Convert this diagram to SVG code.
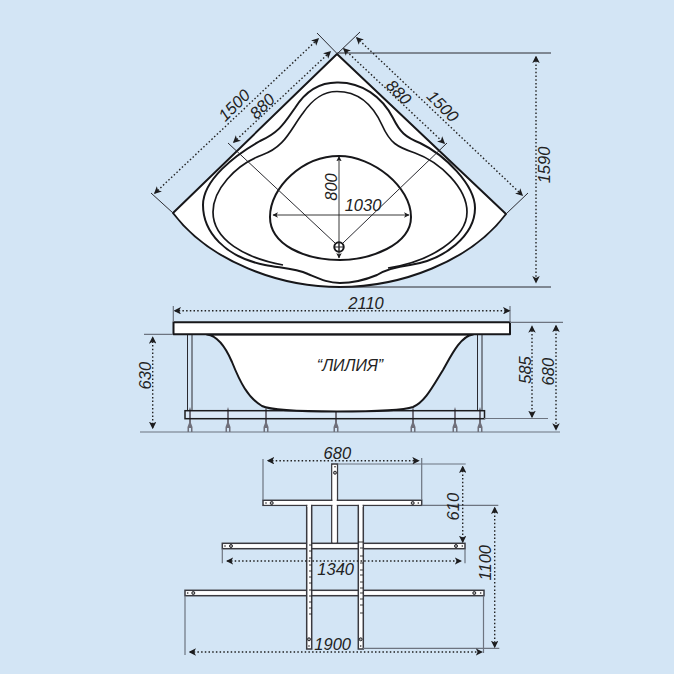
<svg xmlns="http://www.w3.org/2000/svg" width="674" height="674" viewBox="0 0 674 674">
<style>
.o{fill:none;stroke:#17171a;stroke-width:2;stroke-linejoin:round}
.w{fill:#fff;stroke:#17171a;stroke-width:2;stroke-linejoin:round}
.b{fill:#fff;stroke:#3a3a40;stroke-width:1.5}
.i{fill:#fff;stroke:none}
.t{fill:none;stroke:#2a2a30;stroke-width:1}
.g{fill:none;stroke:#6d7480;stroke-width:1.2}
.d{fill:none;stroke:#222;stroke-width:1.4;stroke-dasharray:1.5 2.2;marker-start:url(#a);marker-end:url(#a)}
.s{fill:none;stroke:#222;stroke-width:.9;marker-start:url(#a2);marker-end:url(#a2)}
.n{fill:#1c1c1e;stroke:none}
.c{fill:#aaa;stroke:#26262a;stroke-width:1}
text{font-family:"Liberation Sans",Arial,sans-serif;font-style:italic;font-size:16.5px;fill:#222;text-anchor:middle}
</style>
<defs>
<marker id="a" viewBox="0 0 10 10" refX="8" refY="5" markerUnits="userSpaceOnUse" markerWidth="7.500" markerHeight="7.500" orient="auto-start-reverse"><path d="M0,0L10,5L0,10L2.500,5Z" fill="#1c1c1e"/></marker>
<marker id="a2" viewBox="0 0 10 10" refX="9" refY="5" markerUnits="userSpaceOnUse" markerWidth="5.500" markerHeight="5.500" orient="auto-start-reverse"><path d="M0,0L10,5L0,10L2.500,5Z" fill="#1c1c1e"/></marker>
<path id="foot" d="M0,0L1,3V16L2.500,20V25H1V21H-1V25H-2.500V20L-1,16V3Z" fill="#6f6f7a"/>
</defs>
<rect width="674" height="674" fill="#d3e5f5"/>
<g id="top-view">
<path class="w" d="M337,54L506,214C470,262 400,287 340,287C280,287 210,262 173,213Z"/>
<path class="o" d="M337,82.500C362,82 382,97 393,118C400,132 405,137 420,143C445,155 475,185 475,208C475,235 445,260 410,265C395,267 385,270 377,275C365,280 352,283 340,283C328,283 320,279 308,274C295,268 280,268 265,265C225,257 203,232 203,205C203,180 235,155 260,141C280,132 285,122 295,108C305,92 318,82.500 337,82.500Z"/>
<path class="o" style="stroke-width:1.700" d="M337,91.500C358,91.500 372,103 382,125C390,143 397,147 415,153C440,162 467,188 467,212C467,238 430,262 388,268M283,265C245,258 213,240 213,212C213,190 235,165 262,155C285,147 290,130 303,113C312,100 322,91.500 337,91.500"/>
<path class="o" d="M339,156C373,156 411,187 411,217C411,245 370,260 340,260C305,260 270,245 270,217C270,187 303,156 339,156Z"/>
<circle class="o" cx="339" cy="247" r="4.700"/>
<path class="t" d="M339,242.500V251.500M334.500,247H343.500"/>
</g>
<g id="side-view">
<path class="t" d="M187.500,334V411M192,334V411M477.500,334V411M482,334V411"/>
<rect x="185" y="410.700" width="299.500" height="8" fill="#dbe9f7"/>
<use href="#foot" x="190" y="407"/><use href="#foot" x="228" y="407"/><use href="#foot" x="266" y="407"/><use href="#foot" x="336" y="407"/><use href="#foot" x="413" y="407"/><use href="#foot" x="455" y="407"/><use href="#foot" x="480" y="407"/>
<rect x="185" y="410.700" width="299.500" height="8" fill="none" stroke="#1c1c1e" stroke-width="1.500"/>
<path class="w" d="M207,334.500C218,336 226,348 232,362C240,382 248,398 262,406C272,411 315,411.500 337,411.500C365,411.500 402,411 413,407C425,402 433,386 443,370C450,358 460,336 473,334.500Z"/>
<rect class="w" x="173.500" y="322.300" width="336.500" height="12"/>
<text x="350" y="371" style="font-size:16px">“ЛИЛИЯ”</text>
</g>
<g id="frame">
<rect class="b" x="331.800" y="464" width="5.600" height="79"/>
<rect class="b" x="263" y="500.300" width="158.700" height="5"/>
<rect class="b" x="222.300" y="543.300" width="242.700" height="5.400"/>
<rect class="b" x="185" y="590.300" width="299" height="5.400"/>
<rect class="b" x="306.700" y="505.300" width="5" height="143.700"/>
<rect class="b" x="358.300" y="505.300" width="5" height="143.700"/>
<rect class="i" x="332.500" y="465" width="4.200" height="77.500"/>
<rect class="i" x="264" y="501" width="156.700" height="3.600"/>
<rect class="i" x="307.400" y="503" width="3.600" height="4"/>
<rect class="i" x="359" y="503" width="3.600" height="4"/>
<path fill="none" stroke="#222" stroke-width=".9" d="M309,545H312M309,551H312M309,558H312M309,565H312M309,571H312M309,577H312M309,583H312M309,590H312M309,596H312M309,602H312M309,608H312M309,614H312M358,542H363M360,548H363M360,556H363M360,563H363M360,570H363M360,575H363M360,582H363M360,588H363M360,593H363M360,599H363M360,605H363M360,613H363"/>
<g class="c">
<circle cx="271.700" cy="503" r="1.500"/><circle cx="412.700" cy="503" r="1.500"/><circle cx="335" cy="472.700" r="1.500"/>
<circle cx="231" cy="546" r="1.500"/><circle cx="456" cy="546" r="1.500"/><circle cx="193.300" cy="593" r="1.500"/><circle cx="474.300" cy="593" r="1.500"/>
<circle cx="309" cy="639.300" r="1.500"/><circle cx="360.700" cy="639.300" r="1.500"/>
</g>
<g class="n">
<circle cx="266" cy="503" r=".8"/><circle cx="418.300" cy="503" r=".8"/><circle cx="335" cy="466.700" r=".8"/>
<circle cx="225" cy="546" r=".8"/><circle cx="462.300" cy="546" r=".8"/><circle cx="187.700" cy="593" r=".8"/><circle cx="480.700" cy="593" r=".8"/>
<circle cx="309" cy="646" r=".8"/><circle cx="360.700" cy="646" r=".8"/>
</g>
</g>
<g id="connectors">
<path class="t" d="M317,33L337,53.500M360,32L337,54M151,193L173,213M528,193L506,214M337,53H551M340,287H551"/>
<path class="t" d="M228,143L335,243M447,143L343,243"/>
<path class="s" d="M339,156.500V258"/>
<path class="s" d="M273,215H409"/>
<path class="d" d="M155,193L318,39"/>
<path class="d" d="M234,142L330,52"/>
<path class="d" d="M344,49L444,143"/>
<path class="d" d="M357,38L522,195"/>
<path class="d" d="M536,57V282"/>
<path class="g" d="M173.300,306V322M510,306V322M144,334.300H173M510,322.300H563M140,432H560M484,418.500H548"/>
<path class="d" d="M175,310.700H509"/>
<path class="d" d="M152.700,337.700V427.700"/>
<path class="d" d="M532,326.700V416.700"/>
<path class="d" d="M556,326V429.300"/>
<path class="g" d="M263,459V500M421.700,458V500M337.700,464H465.700M421.700,505.300H498.300M363,648.300H499.300M222.300,548.700V563.300M465,548.700V563.300M185,595.700V655M483.500,595.700V653"/>
<path class="d" d="M268.300,460.700H418.300"/>
<path class="d" d="M462.700,467V541.700"/>
<path class="d" d="M494.700,508V646.700"/>
<path class="d" d="M227.300,561H460.700"/>
<path class="d" d="M190,652H481.700"/>
</g>
<g id="labels">
<text x="234" y="111" transform="rotate(-45 234 105)">1500</text>
<text x="262" y="112" transform="rotate(-45 262 106)">880</text>
<text x="399" y="98" transform="rotate(45 399 92)">880</text>
<text x="443" y="112" transform="rotate(45 443 106)">1500</text>
<text x="544" y="171" transform="rotate(-90 544 165)">1590</text>
<text x="331" y="193" transform="rotate(-90 331 187)">800</text>
<text x="363" y="211">1030</text>
<text x="366" y="308.700">2110</text>
<text x="145" y="381.700" transform="rotate(-90 145 375.700)">630</text>
<text x="525" y="376" transform="rotate(-90 525 370)">585</text>
<text x="548" y="377.700" transform="rotate(-90 548 371.700)">680</text>
<text x="337.300" y="458.700">680</text>
<text x="453.300" y="512.700" transform="rotate(-90 453.300 506.700)">610</text>
<text x="485" y="568.700" transform="rotate(-90 485 562.700)">1100</text>
<text x="335.700" y="575.300">1340</text>
<text x="332.700" y="650.300">1900</text>
</g>
</svg>
